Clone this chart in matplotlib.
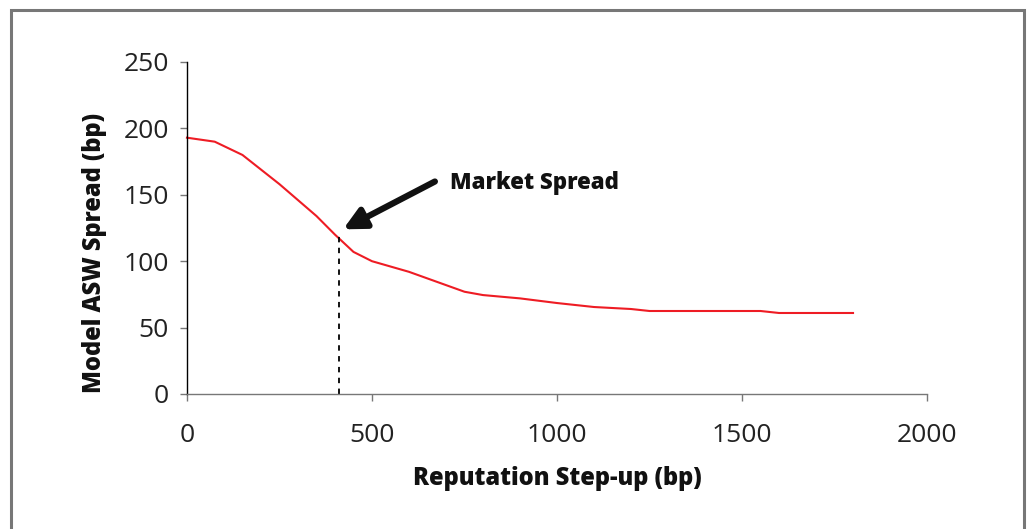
import matplotlib
matplotlib.use("Agg")
import matplotlib.pyplot as plt
from matplotlib.patches import Rectangle

# Model ASW spread versus reputation step-up
step_up = [0, 75, 150, 200, 250, 300, 350, 400, 450, 500, 550, 600, 650,
           700, 750, 800, 900, 1000, 1100, 1200, 1250, 1550, 1600, 1800]
spread = [193, 190, 180, 169, 158, 146, 134, 120, 107, 100, 96, 92, 87,
          82, 77, 74.5, 72, 68.5, 65.5, 64, 62.5, 62.5, 61, 61]

market_x = 410
market_y = 121
arrow_tail = (670, 160)
arrow_tip = (422, 124)
label_pos = (710, 159)

x_ticks = [0, 500, 1000, 1500, 2000]
y_ticks = [0, 50, 100, 150, 200, 250]

plt.rcParams['font.family'] = ['Open Sans', 'DejaVu Sans']

fig = plt.figure(figsize=(10.29, 5.29), dpi=100)
ax = fig.add_axes([0.1817, 0.2552, 0.9009 - 0.1817, 0.8828 - 0.2552])

# outer frame around the chart
fig.patches.append(Rectangle((0.0107, -0.05), 0.995 - 0.0107, 0.981 + 0.05,
                             transform=fig.transFigure, fill=False,
                             edgecolor='#777777', linewidth=2.2))

ax.plot(step_up, spread, color='#ee1c24', linewidth=1.5, clip_on=False)
ax.plot([market_x, market_x], [0, market_y], color='black',
        linestyle=(0, (3, 3)), linewidth=1.3)

ax.annotate('', xy=arrow_tip, xytext=arrow_tail,
            arrowprops=dict(arrowstyle='-|>,head_length=1.3,head_width=0.65',
                            color='#111111', linewidth=4.5, shrinkA=0, shrinkB=0))
ax.text(label_pos[0], label_pos[1], 'Market Spread', fontsize=16,
        fontweight=800, va='center', ha='left', color='#111111')

ax.set_xlim(0, 2000)
ax.set_ylim(0, 250)
ax.set_xticks(x_ticks)
ax.set_yticks(y_ticks)

for s in ['top', 'right']:
    ax.spines[s].set_visible(False)
ax.spines['left'].set_color('black')
ax.spines['bottom'].set_color('#777777')
ax.spines['left'].set_linewidth(1.0)
ax.spines['bottom'].set_linewidth(1.0)

ax.tick_params(axis='both', direction='out', length=5, width=1,
               color='#777777', labelsize=19, labelcolor='#222222', pad=8)
ax.tick_params(axis='x', pad=16)

ax.set_xlabel('Reputation Step-up (bp)', fontsize=17, fontweight=800,
              labelpad=13, color='#111111')
ax.set_ylabel('Model ASW Spread (bp)', fontsize=17, fontweight=800,
              color='#111111')
ax.yaxis.set_label_coords(-0.108, 0.425)

fig.savefig('out.png', dpi=100)
